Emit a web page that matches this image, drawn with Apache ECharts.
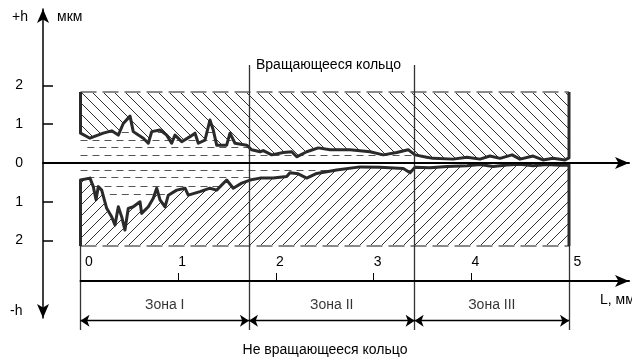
<!DOCTYPE html>
<html><head><meta charset="utf-8">
<script src="https://cdn.jsdelivr.net/npm/echarts@6/dist/echarts.min.js"></script>
<style>html,body{margin:0;padding:0;background:#fff}#c{width:632px;height:361px}</style>
</head><body><div id="c"></div>
<script>
// ---- data ----
const upperL = [0, 0.097, 0.233, 0.319, 0.387, 0.438, 0.507, 0.540, 0.592, 0.643, 0.694, 0.729, 0.814, 0.882, 0.933, 0.967, 1.036, 1.121, 1.172, 1.206, 1.274, 1.325, 1.359, 1.394, 1.496, 1.530, 1.581, 1.701, 1.752, 1.837, 1.871, 1.957, 2.076, 2.162, 2.213, 2.315, 2.434, 2.554, 2.758, 2.963, 3.099, 3.236, 3.355, 3.424, 3.543, 3.608, 3.813, 3.956, 4.089, 4.191, 4.294, 4.417, 4.499, 4.632, 4.734, 4.836, 4.959, 5.0];
const upperH = [0.77, 0.64, 0.77, 0.83, 0.72, 1.02, 1.21, 0.81, 0.72, 0.64, 0.51, 0.81, 0.85, 0.72, 0.51, 0.72, 0.55, 0.68, 0.77, 0.51, 0.59, 1.11, 0.85, 0.46, 0.46, 0.77, 0.51, 0.46, 0.34, 0.29, 0.32, 0.21, 0.27, 0.29, 0.16, 0.29, 0.39, 0.34, 0.34, 0.29, 0.21, 0.27, 0.34, 0.21, 0.15, 0.12, 0.10, 0.15, 0.10, 0.18, 0.12, 0.21, 0.10, 0.18, 0.08, 0.12, 0.08, 0.13];
const lowerL = [0, 0.097, 0.131, 0.159, 0.182, 0.217, 0.268, 0.319, 0.353, 0.387, 0.422, 0.455, 0.489, 0.540, 0.609, 0.626, 0.694, 0.745, 0.780, 0.814, 0.865, 0.899, 0.985, 1.070, 1.103, 1.223, 1.325, 1.394, 1.496, 1.564, 1.650, 1.735, 1.837, 1.973, 2.111, 2.144, 2.229, 2.315, 2.418, 2.622, 2.861, 3.066, 3.304, 3.373, 3.424, 3.577, 3.751, 3.956, 4.089, 4.222, 4.365, 4.499, 4.632, 4.775, 4.908, 5.0];
const lowerH = [-0.44, -0.39, -0.61, -0.95, -0.61, -0.70, -1.17, -1.39, -1.60, -1.13, -1.39, -1.73, -1.17, -1.13, -1.00, -1.30, -1.13, -0.91, -0.65, -0.95, -1.13, -0.83, -0.70, -0.65, -0.83, -0.74, -0.65, -0.70, -0.44, -0.65, -0.52, -0.44, -0.39, -0.39, -0.35, -0.25, -0.28, -0.39, -0.27, -0.18, -0.10, -0.11, -0.14, -0.25, -0.11, -0.12, -0.09, -0.07, -0.04, -0.09, -0.05, -0.03, -0.07, -0.04, -0.06, -0.05];
const hatchTop = 1.83;
const hatchBottom = -2.14;
const dashLevels = [0.80, 0.594, 0.40, 0.206, -0.18, -0.374, -0.594, -0.80];
const dashStart  = [0.30, 0.00, 0.07, 0.00, 0.00, 0.07, 0.00, 0.30];
const dashEnd    = [1.40, 1.72, 1.75, 3.42, 3.42, 1.75, 1.72, 1.40];
const zoneBounds = [0, 1.724, 3.42, 5];
const zoneNames = ['Зона I', 'Зона II', 'Зона III'];
const hTickLabels = [2, 1, 0, -1, -2];
const hTickMarks = [2, 1, -1, -2];
const lTickLabels = [0, 1, 2, 3, 4, 5];
const lTickMarks = [1, 2, 3, 4];
const zoneLineTop = 2.53, zoneLineBottom = -4.31, zoneArrowH = -4.07, zoneLabelH = -3.66;

// ---- helpers ----
const FONT = 'Liberation Sans, Arial, sans-serif';
function makeHatch(p, dir) {
  const c = document.createElement('canvas'); c.width = p; c.height = p;
  const g = c.getContext('2d');
  g.fillStyle = '#fff'; g.fillRect(0, 0, p, p);
  g.strokeStyle = '#333'; g.lineWidth = 1;
  g.beginPath();
  if (dir > 0) {
    g.moveTo(-1, -1); g.lineTo(p + 1, p + 1);
    g.moveTo(-2, p - 2); g.lineTo(2, p + 2);
    g.moveTo(p - 2, -2); g.lineTo(p + 2, 2);
  } else {
    g.moveTo(-1, p + 1); g.lineTo(p + 1, -1);
    g.moveTo(-2, 2); g.lineTo(2, -2);
    g.moveTo(p - 2, p + 2); g.lineTo(p + 2, p - 2);
  }
  g.stroke();
  return c;
}
const patUp = { image: makeHatch(11, 1), repeat: 'repeat' };
const patDown = { image: makeHatch(11, -1), repeat: 'repeat' };

const upperPoly = [[0, hatchTop]].concat(upperL.map((l, i) => [l, upperH[i]])).concat([[5, hatchTop]]);
const lowerPoly = [[0, hatchBottom]].concat(lowerL.map((l, i) => [l, lowerH[i]])).concat([[5, hatchBottom]]);

const G = { xAxisIndex: 2, yAxisIndex: 2 };

const chart = echarts.init(document.getElementById('c'), null, { renderer: 'canvas' });
chart.setOption({
  animation: false,
  backgroundColor: '#fff',
  textStyle: { fontFamily: FONT },
  grid: [
    { left: 43, top: 9, width: 586, height: 309 },
    { left: 80.5, top: 281, width: 548.5, height: 1 },
    { left: 0, top: 0, width: 632, height: 361 }
  ],
  xAxis: [
    { gridIndex: 0, type: 'value', min: -0.3838, max: 5.614, z: 10,
      axisLine: { onZero: true, symbol: ['none', 'arrow'], symbolSize: [9, 14], lineStyle: { color: '#000', width: 2 } },
      axisTick: { show: false }, axisLabel: { show: false }, splitLine: { show: false } },
    { gridIndex: 1, type: 'value', position: 'top', min: 0, max: 5.614, z: 10,
      axisLine: { onZero: false, symbol: ['none', 'arrow'], symbolSize: [9, 14], lineStyle: { color: '#000', width: 2 } },
      axisTick: { show: true, customValues: lTickMarks, length: 8, lineStyle: { color: '#000', width: 1 } },
      axisLabel: { customValues: lTickLabels, margin: 12, color: '#000',
        formatter: v => (v === 0 || v === 5) ? '{e|' + v + '}' : '{a|' + v + '}',
        rich: { a: { fontSize: 14, fontFamily: FONT, color: '#000', padding: [0, 0, 0, 8] },
                e: { fontSize: 14, fontFamily: FONT, color: '#000', padding: [0, 0, 0, 17] } } },
      splitLine: { show: false } },
    { gridIndex: 2, type: 'value', min: -0.8239, max: 5.6447, show: false, splitLine: { show: false } }
  ],
  yAxis: [
    { gridIndex: 0, type: 'value', min: -4, max: 3.974, z: 10,
      axisLine: { onZero: false, symbol: ['arrow', 'arrow'], symbolSize: [9, 14], lineStyle: { color: '#000', width: 1.5 } },
      axisTick: { show: true, inside: true, length: 10, customValues: hTickMarks, lineStyle: { color: '#000', width: 1.5 } },
      axisLabel: { customValues: hTickLabels, margin: 20, color: '#000', fontSize: 14, fontFamily: FONT,
        formatter: v => String(Math.abs(v)) },
      splitLine: { show: false } },
    { gridIndex: 1, type: 'value', min: 0, max: 1, show: false, splitLine: { show: false } },
    { gridIndex: 2, type: 'value', min: -5.1097, max: 4.2065, show: false, splitLine: { show: false } }
  ],
  graphic: [
    { type: 'text', x: 12, y: 17, style: { text: '+h', fill: '#000', font: '14px ' + FONT, verticalAlign: 'middle', align: 'left' } },
    { type: 'text', x: 57, y: 17, style: { text: 'мкм', fill: '#000', font: '14px ' + FONT, verticalAlign: 'middle', align: 'left' } },
    { type: 'text', x: 10, y: 311, style: { text: '-h', fill: '#000', font: '14px ' + FONT, verticalAlign: 'middle', align: 'left' } },
    { type: 'text', x: 600, y: 300, style: { text: 'L, мм', fill: '#000', font: '14px ' + FONT, verticalAlign: 'middle', align: 'left' } },
    { type: 'text', x: 256, y: 65, style: { text: 'Вращающееся кольцо', fill: '#000', font: '14px ' + FONT, verticalAlign: 'middle', align: 'left' } },
    { type: 'text', x: 325, y: 350, style: { text: 'Не вращающееся кольцо', fill: '#000', font: '14px ' + FONT, verticalAlign: 'middle', align: 'center' } }
  ],
  series: [
    Object.assign({ type: 'lines', coordinateSystem: 'cartesian2d', z: 1,
      lineStyle: { color: '#555', width: 1, type: [7, 5], opacity: 1 },
      data: dashLevels.map((h, i) => ({ coords: [[dashStart[i], h], [dashEnd[i], h]] })) }, G),
    Object.assign({ type: 'custom', z: 2,
      renderItem: (params, api) => {
        const poly = params.dataIndex === 0 ? upperPoly : lowerPoly;
        return { type: 'polygon', shape: { points: poly.map(p => api.coord(p)) },
          style: { fill: params.dataIndex === 0 ? patUp : patDown, stroke: null } };
      },
      data: [[0, 0], [1, 0]] }, G),
    Object.assign({ type: 'lines', coordinateSystem: 'cartesian2d', z: 3,
      lineStyle: { color: '#8a8a8a', width: 2, type: [16, 6], opacity: 1 },
      data: [{ coords: [[0, hatchTop], [5, hatchTop]] }, { coords: [[0, hatchBottom], [5, hatchBottom]] }] }, G),
    Object.assign({ type: 'line', z: 4, showSymbol: false, symbol: 'none',
      lineStyle: { color: '#2a2a2a', width: 3, join: 'round' },
      data: [[0, hatchTop]].concat(upperL.map((l, i) => [l, upperH[i]])).concat([[5, hatchTop]]) }, G),
    Object.assign({ type: 'line', z: 4, showSymbol: false, symbol: 'none',
      lineStyle: { color: '#2a2a2a', width: 3, join: 'round' },
      data: [[0, hatchBottom]].concat(lowerL.map((l, i) => [l, lowerH[i]])).concat([[5, hatchBottom]]) }, G),
    Object.assign({ type: 'lines', coordinateSystem: 'cartesian2d', z: 5,
      lineStyle: { color: '#333', width: 1.3, opacity: 1 },
      data: [
        { coords: [[zoneBounds[1], zoneLineTop], [zoneBounds[1], zoneLineBottom]] },
        { coords: [[zoneBounds[2], zoneLineTop], [zoneBounds[2], zoneLineBottom]] },
        { coords: [[zoneBounds[0], hatchBottom], [zoneBounds[0], zoneLineBottom]] },
        { coords: [[zoneBounds[3], hatchBottom], [zoneBounds[3], zoneLineBottom]] }
      ] }, G),
    Object.assign({ type: 'lines', coordinateSystem: 'cartesian2d', z: 5,
      symbol: ['arrow', 'arrow'], symbolSize: 9,
      lineStyle: { color: '#000', width: 1.3, opacity: 1 },
      data: zoneNames.map((n, i) => ({ coords: [[zoneBounds[i], zoneArrowH], [zoneBounds[i + 1], zoneArrowH]] })) }, G),
    Object.assign({ type: 'scatter', z: 6, symbolSize: 1, itemStyle: { color: 'rgba(0,0,0,0)' },
      label: { show: true, position: 'inside', formatter: '{b}', color: '#000', fontSize: 14, fontFamily: FONT },
      data: zoneNames.map((n, i) => ({ name: n, value: [(zoneBounds[i] + zoneBounds[i + 1]) / 2, zoneLabelH] })) }, G)
  ]
});
</script>
</body></html>
